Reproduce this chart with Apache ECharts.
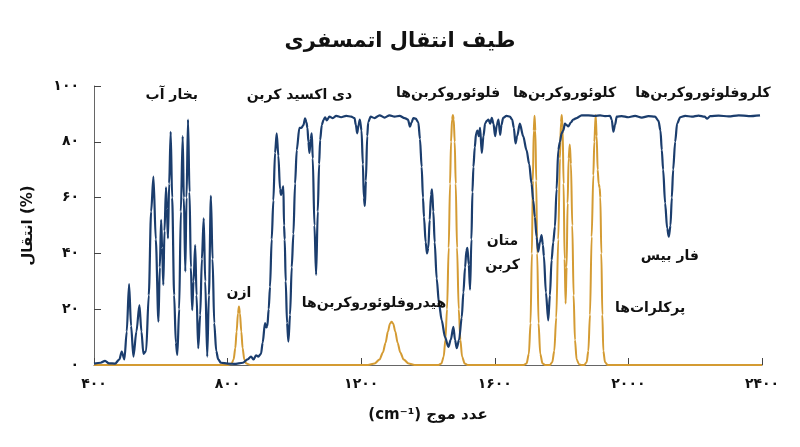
<!DOCTYPE html>
<html>
<head>
<meta charset="utf-8">
<script src="https://cdn.jsdelivr.net/npm/echarts@6/dist/echarts.min.js"></script>
<style>
  html, body { margin: 0; padding: 0; background: #fff; }
  #chart { width: 800px; height: 447px; }
</style>
</head>
<body>
<div id="chart"></div>
<script>
// عدد موج / درصد انتقال جو (خط آبی)
var transmission = [
  [400,0.5],[420,0.8],[433,1.5],[445,0.6],[463,0.5],[476,2],[483,4.8],[491,2],[498,12],[505,29],[511,14],[518,3],
  [527,12],[536,21.5],[542,12],[548,4],[556,5],[564,25],[571,55],[578,67.5],[585,45],[593,15.5],[597,35],[601,52],
  [604,42],[607.5,28.7],[611,48],[615.6,63.7],[618,56],[621.5,45.4],[625,65],[629.6,83.6],[634,60],[640,25],[645,8],
  [649.5,3.6],[655,20],[660,55],[665.5,82],[669,60],[673.4,33.5],[677,60],[681.5,88],[686,62],[690,35],[694,19.7],
  [698,30],[703,43],[707,25],[712,6],[718,18],[723,38],[728.5,52.6],[733,30],[739,3],[744,25],[750,60.6],[755,38],
  [760,15],[766,5],[772,2],[780,0.8],[800,0.5],[820,0.4],[846,0.8],[860,2],[870,3],[878,2],[885,3.5],[892,3],[900,4],
  [905,8],[912,15],[916,13.5],[919,14],[923,20],[927,28],[932,45],[937,59],[942,76],[947,83],[952,75],[957,63],
  [960,61],[964,63],[967,64],[969,50],[971,45],[974,30],[978,15],[982,8.4],[987,18],[992,35],[997,47],[1002,65],
  [1007,77],[1015,85],[1021,85],[1027,86],[1032,88.4],[1036,87],[1039,85],[1042,80],[1045,76],[1049,81],[1052,83],
  [1055,74],[1060,50],[1065,32.3],[1070,55],[1074,72],[1077,80.6],[1082,86],[1087,87.8],[1092,88.8],[1097,87.7],
  [1105,89],[1115,88.5],[1125,89.3],[1140,88.8],[1155,89.3],[1170,89],[1180,88.5],[1184,86],[1188,83],[1192,86],
  [1196,88],[1201,84],[1205,72],[1208,60],[1211,57],[1214,66],[1218,82],[1221,87],[1228,89],[1240,88.5],[1255,89.5],
  [1270,88.7],[1285,89.5],[1300,89],[1315,89.3],[1330,88.5],[1340,88],[1346,85.4],[1351,87],[1356,88.5],[1363,88.3],
  [1371,87],[1376,81],[1381,71],[1385,60],[1388,53],[1393,44],[1397,40],[1401,42],[1405,52],[1409,61],[1412,63],
  [1416,55],[1420,44],[1426,31],[1433,22],[1441,16],[1451,10],[1461,6.5],[1468,9],[1476,13.7],[1481,9],[1486,6],
  [1493,9],[1501,17],[1506,26],[1511,35],[1515,41],[1518,42],[1522,36],[1526,27],[1530,45],[1533,62],[1536,71],
  [1540,78],[1544,83],[1548,84],[1552,82],[1556,85],[1561,76],[1566,82],[1571,86.6],[1576,87.5],[1581,88],[1586,86.5],
  [1591,88.6],[1596,86.5],[1601,82],[1606,86],[1611,88],[1616,82.5],[1620,86],[1625,88.6],[1635,89.3],[1645,89],
  [1652,88],[1657,85],[1662,79.4],[1667,82],[1675,86.5],[1685,82],[1695,77],[1703,72],[1710,65],[1715,59],[1720,53],
  [1725,46],[1730,40.6],[1735,44],[1740,46.6],[1744,43],[1747,39],[1753,26],[1760,16],[1765,25],[1770,37.6],[1775,44],
  [1780,49.6],[1785,63],[1790,77],[1795,80],[1800,83],[1805,84],[1810,86.5],[1815,86],[1820,85.5],[1828,87],[1835,88],
  [1845,88.5],[1860,89.5],[1880,89.5],[1900,89.3],[1915,89.5],[1930,89.2],[1945,89.3],[1950,88],[1955,83.6],[1960,86],
  [1965,89],[1980,89.2],[2000,88.8],[2020,89.3],[2040,88.7],[2060,89.2],[2080,89],[2090,87.5],[2096,84],[2100,77],
  [2104,70],[2110,58],[2116,49],[2121,46],[2126,50],[2130,60],[2134,70],[2140,80],[2146,86.6],[2155,88.8],[2170,89.3],
  [2190,89],[2210,89.4],[2228,89],[2236,88.3],[2245,89.2],[2270,89.4],[2300,89.1],[2330,89.5],[2360,89.2],[2394,89.5]
];

// باندهای جذب آلاینده‌ها (خط نارنجی)
var pollutants = [
  [400,0],[780,0],[800,0],[812,0.5],[818,2],[823,6],[827,12],[831,18.5],[834,21],[837,18.5],[841,12],[845,6],[850,2],
  [856,0.5],[870,0],[1220,0],[1240,0.5],[1255,2],[1265,4.5],[1273,8],[1280,12],[1286,14.8],[1291,15.5],[1296,14.8],
  [1302,12],[1309,8],[1317,4.5],[1327,2],[1342,0.5],[1360,0],[1430,0],[1440,0.5],[1447,3],[1452,9],[1457,20],[1462,42],
  [1466,65],[1469,80],[1472,88],[1474.5,89.6],[1477,88],[1480,80],[1483,65],[1487,42],[1492,20],[1497,9],[1502,3],
  [1510,0.5],[1520,0],[1685,0],[1695,0.5],[1702,4],[1707,15],[1711,40],[1714,66],[1716.5,84],[1719,89.3],[1721.5,84],
  [1724,66],[1727,40],[1731,15],[1736,4],[1743,0.5],[1752,0],[1765,0],[1772,1],[1778,5],[1784,17],[1790,45],[1795,74],
  [1798,87],[1800.5,89.6],[1803,85],[1806,65],[1809,38],[1812,22],[1815,35],[1818,58],[1821,74],[1824.5,79],[1828,72],
  [1832,50],[1836,25],[1840,9],[1845,2],[1852,0.3],[1860,0],[1868,0],[1875,1],[1880,5],[1885,18],[1890,46],[1895,68],
  [1898,80],[1902,89.6],[1905,82],[1908,70],[1911,65],[1914,63.5],[1916,60],[1919,40],[1922,18],[1925,5],[1930,1],
  [1938,0],[2400,0]
];

var xTicks = [400, 800, 1200, 1600, 2000, 2400];
var yTicks = [0, 20, 40, 60, 80, 100];

var noteTexts = ['بخار آب', 'دی اکسید کربن', 'فلوئوروکربن‌ها', 'کلوئوروکربن‌ها', 'کلروفلوئوروکربن‌ها',
  'ازن', 'هیدروفلوئوروکربن‌ها', 'متان\nکربن', 'فار بیس', 'پرکلرات‌ها'];
var noteX = [633, 1015, 1460, 1809, 2223, 834, 1238, 1623, 2124, 2065];
var noteY = [96.5, 96.5, 97.5, 97.5, 97.5, 25.5, 22, 40, 38.8, 20.4];

var fa = 'DejaVu Sans';
function toFa(v) {
  return String(v).replace(/\d/g, function (d) { return '۰۱۲۳۴۵۶۷۸۹'[d]; });
}

var notes = noteTexts.map(function (t, i) { return { name: t, value: [noteX[i], noteY[i]] }; });

var myChart = echarts.init(document.getElementById('chart'));
myChart.setOption({
  animation: false,
  title: {
    text: 'طیف انتقال اتمسفری', left: 'center', top: 26,
    textStyle: { fontFamily: fa, fontSize: 21, fontWeight: 'bold', color: '#111' }
  },
  grid: { left: 94, right: 38, top: 86, bottom: 82 },
  xAxis: {
    type: 'value', min: xTicks[0], max: xTicks[xTicks.length - 1], interval: 400,
    name: '(cm⁻¹) عدد موج', nameLocation: 'middle', nameGap: 43,
    nameTextStyle: { fontFamily: fa, fontSize: 15, fontWeight: 'bold', color: '#111' },
    axisLine: { lineStyle: { color: '#666', width: 1.2 } },
    axisTick: { inside: true, length: 7, lineStyle: { color: '#444' } },
    axisLabel: { formatter: toFa, fontFamily: fa, fontSize: 14, fontWeight: 'bold', color: '#111', margin: 12 },
    splitLine: { show: false }
  },
  yAxis: {
    type: 'value', min: yTicks[0], max: yTicks[yTicks.length - 1], interval: 20,
    name: 'انتقال (%)', nameLocation: 'middle', nameGap: 58, nameRotate: 90,
    nameTextStyle: { fontFamily: fa, fontSize: 15, fontWeight: 'bold', color: '#111' },
    axisLine: { show: true, lineStyle: { color: '#666', width: 1 } },
    axisTick: { show: true, inside: true, length: 7, lineStyle: { color: '#444' } },
    axisLabel: { formatter: toFa, fontFamily: fa, fontSize: 14, fontWeight: 'bold', color: '#111', margin: 15 },
    splitLine: { show: false }
  },
  series: [
    {
      type: 'line', data: pollutants, showSymbol: false, smooth: 0.3, smoothMonotone: 'x',
      lineStyle: { color: '#d49b33', width: 2 }, z: 2
    },
    {
      type: 'line', data: transmission, showSymbol: false, smooth: 0.3, smoothMonotone: 'x',
      lineStyle: { color: '#1b3d6d', width: 2.2 }, z: 3
    },
    {
      type: 'scatter', data: notes, symbolSize: 0, itemStyle: { color: 'rgba(0,0,0,0)' }, z: 5,
      label: {
        show: true, position: 'inside', formatter: '{b}', opacity: 1,
        textBorderWidth: 0, textBorderColor: 'transparent',
        fontFamily: fa, fontSize: 14, fontWeight: 'bold', color: '#111', lineHeight: 24
      }
    }
  ]
});
</script>
</body>
</html>
